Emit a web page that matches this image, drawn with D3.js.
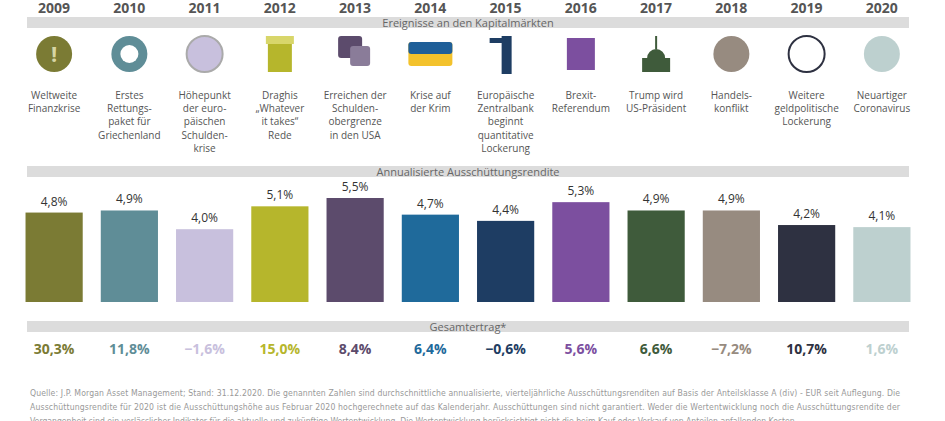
<!DOCTYPE html>
<html><head><meta charset="utf-8">
<script src="https://cdn.jsdelivr.net/npm/d3@7"></script>
<style>body{margin:0;background:#fff}svg{font-family:"Open Sans",sans-serif}</style>
</head><body><svg id="c" width="945" height="421"></svg>
<script>
var years = ['2009','2010','2011','2012','2013','2014','2015','2016','2017','2018','2019','2020'];
var events = [
  ['Weltweite','Finanzkrise'],
  ['Erstes','Rettungs-','paket für','Griechenland'],
  ['Höhepunkt','der euro-','päischen','Schulden-','krise'],
  ['Draghis','„Whatever','it takes“','Rede'],
  ['Erreichen der','Schulden-','obergrenze','in den USA'],
  ['Krise auf','der Krim'],
  ['Europäische','Zentralbank','beginnt','quantitative','Lockerung'],
  ['Brexit-','Referendum'],
  ['Trump wird','US-Präsident'],
  ['Handels-','konflikt'],
  ['Weitere','geldpolitische','Lockerung'],
  ['Neuartiger','Coronavirus']
];
var yieldVals = [4.8, 4.9, 4.0, 5.1, 5.5, 4.7, 4.4, 5.3, 4.9, 4.9, 4.2, 4.1];
var totalVals = [30.3, 11.8, -1.6, 15.0, 8.4, 6.4, -0.6, 5.6, 6.6, -7.2, 10.7, 1.6];
var colors = ['#7b7b34','#5f8d97','#c8c0dd','#b6b62c','#5c4b6c','#1f6a9b','#1e3d63','#7c4f9f','#3f5b3b','#978b80','#2e3141','#bdd0cf'];
var footnote = [
  'Quelle: J.P. Morgan Asset Management; Stand: 31.12.2020. Die genannten Zahlen sind durchschnittliche annualisierte, vierteljährliche Ausschüttungsrenditen auf Basis der Anteilsklasse A (div) - EUR seit Auflegung. Die',
  'Ausschüttungsrendite für 2020 ist die Ausschüttungshöhe aus Februar 2020 hochgerechnete auf das Kalenderjahr. Ausschüttungen sind nicht garantiert. Weder die Wertentwicklung noch die Ausschüttungsrendite der',
  'Vergangenheit sind ein verlässlicher Indikator für die aktuelle und zukünftige Wertentwicklung. Die Wertentwicklung berücksichtigt nicht die beim Kauf oder Verkauf von Anteilen anfallenden Kosten.'
];

var svg = d3.select('#c');
var fmt = function (v) { return v.toFixed(1).replace('.', ',').replace('-', '−') + '%'; };
var x = d3.scaleBand().domain(years).range([18, 918]).paddingInner(0.24).paddingOuter(0.1);
var y = d3.scaleLinear().domain([0.5, 5.5]).range([302, 198]);
var cx = function (d) { return x(d) + x.bandwidth() / 2; };

svg.selectAll('.yr').data(years).join('text')
  .attr('x', cx).attr('y', 13).attr('text-anchor', 'middle')
  .attr('font-size', 14).attr('font-weight', 700).attr('fill', '#555').text(function (d) { return d; });

function band(y0, label) {
  svg.append('rect').attr('x', 27).attr('y', y0).attr('width', 882).attr('height', 11).attr('fill', '#dcdcdc');
  svg.append('text').attr('x', 468).attr('y', y0 + 9.5).attr('text-anchor', 'middle')
    .attr('font-size', 11).attr('fill', '#666').text(label);
}
band(17, 'Ereignisse an den Kapitalmärkten');
band(166, 'Annualisierte Ausschüttungsrendite');
band(321, 'Gesamtertrag*');

// icons (simplified)
var ic = svg.selectAll('.ic').data(years).join('g')
  .attr('transform', function (d) { return 'translate(' + cx(d) + ',54)'; });
ic.each(function (d, i) {
  var g = d3.select(this), c = colors[i];
  if (i === 5) {
    g.append('rect').attr('x', -22).attr('y', -12).attr('width', 44).attr('height', 24).attr('rx', 3).attr('fill', '#f3c22c');
    g.append('rect').attr('x', -22).attr('y', -12).attr('width', 44).attr('height', 12).attr('rx', 3).attr('fill', '#1f5f99');
  } else if (i === 4) {
    g.append('rect').attr('x', -17).attr('y', -18).attr('width', 24).attr('height', 22).attr('rx', 3).attr('fill', c);
    g.append('rect').attr('x', -5).attr('y', -8).attr('width', 20).attr('height', 20).attr('rx', 3).attr('fill', '#8a7c99');
  } else if (i === 3) {
    g.append('rect').attr('x', -12).attr('y', -12).attr('width', 24).attr('height', 30).attr('fill', c);
    g.append('rect').attr('x', -14).attr('y', -18).attr('width', 28).attr('height', 8).attr('fill', '#d8d66a');
  } else if (i === 6) {
    g.append('rect').attr('x', -4).attr('y', -18).attr('width', 10).attr('height', 38).attr('fill', c);
    g.append('rect').attr('x', -16).attr('y', -16).attr('width', 20).attr('height', 5).attr('fill', c);
  } else if (i === 7) {
    g.append('rect').attr('x', -14).attr('y', -16).attr('width', 28).attr('height', 32).attr('fill', c);
  } else if (i === 8) {
    g.append('path').attr('d', 'M-14,18 L14,18 L14,4 L-14,4 Z M-9,4 A9,9 0 0 1 9,4 Z M-1,-5 L1,-5 L1,-18 L-1,-18 Z').attr('fill', c);
  } else {
    g.append('circle').attr('r', 18).attr('fill', i === 10 ? '#fff' : c).attr('stroke', i === 10 ? c : (i === 2 ? '#aaa' : 'none')).attr('stroke-width', 2);
    if (i === 1) g.append('circle').attr('r', 9).attr('fill', '#fff');
    if (i === 0) g.append('text').attr('y', 8).attr('text-anchor', 'middle').attr('font-size', 22).attr('font-weight', 700).attr('fill', '#d7d6a4').text('!');
  }
});

svg.selectAll('.ev').data(events).join('text')
  .attr('x', function (d, i) { return cx(years[i]); }).attr('y', 99)
  .attr('text-anchor', 'middle').attr('font-size', 10).attr('fill', '#555')
  .each(function (d) {
    var t = d3.select(this), xx = t.attr('x');
    d.forEach(function (l, j) { t.append('tspan').attr('x', xx).attr('dy', j ? 13.2 : 0).text(l); });
  });

svg.selectAll('.bar').data(yieldVals).join('rect')
  .attr('x', function (d, i) { return x(years[i]); }).attr('width', x.bandwidth())
  .attr('y', function (d) { return y(d); }).attr('height', function (d) { return y(0.5) - y(d); })
  .attr('fill', function (d, i) { return colors[i]; });

svg.selectAll('.bl').data(yieldVals).join('text')
  .attr('x', function (d, i) { return cx(years[i]); }).attr('y', function (d) { return y(d) - 7; })
  .attr('text-anchor', 'middle').attr('font-size', 12).attr('fill', '#333').text(fmt);

svg.selectAll('.tot').data(totalVals).join('text')
  .attr('x', function (d, i) { return cx(years[i]); }).attr('y', 354)
  .attr('text-anchor', 'middle').attr('font-size', 14).attr('font-weight', 700)
  .attr('fill', function (d, i) { return colors[i]; }).text(fmt);

svg.selectAll('.fn').data(footnote).join('text')
  .attr('x', 30).attr('y', function (d, i) { return 396 + i * 14; })
  .attr('font-size', 8.6).attr('fill', '#999').attr('font-family', 'Liberation Sans Narrow, DejaVu Sans Condensed, sans-serif')
  .attr('textLength', function (d, i) { return i < 2 ? 870 : null; })
  .text(function (d) { return d; });
</script></body></html>
